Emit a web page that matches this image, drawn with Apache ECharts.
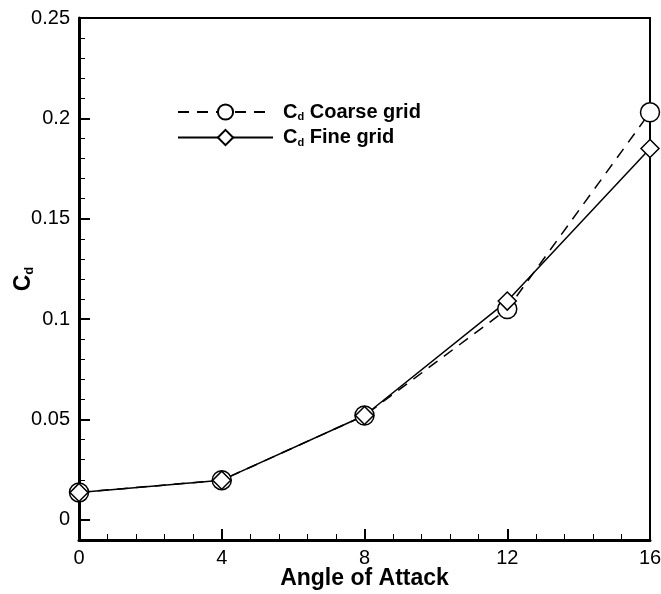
<!DOCTYPE html>
<html><head><meta charset="utf-8">
<script src="https://cdn.jsdelivr.net/npm/echarts@6/dist/echarts.min.js"></script>
<style>html,body{margin:0;padding:0;background:#fff}#c{width:661px;height:594px}</style>
</head><body><div id="c"></div>
<script>
var angles = [0, 4, 8, 12, 16];
var coarse = [0.0137, 0.0198, 0.052, 0.105, 0.203];
var fine = [0.0137, 0.0198, 0.052, 0.109, 0.185];
var yMajor = [0, 0.05, 0.1, 0.15, 0.2, 0.25];
var yMinor = [-0.01, 0.01, 0.02, 0.03, 0.04, 0.06, 0.07, 0.08, 0.09, 0.11, 0.12, 0.13, 0.14, 0.16, 0.17, 0.18, 0.19, 0.21, 0.22, 0.23, 0.24];
function pairs(xs, ys){ return xs.map(function(x,i){return [x, ys[i]];}); }
var FONT = 'Liberation Sans';
var chart = echarts.init(document.getElementById('c'));
var rich = {
  c: {fontFamily: FONT, fontWeight: 'bold', fontSize: 20, color: '#000'},
  s: {fontFamily: FONT, fontWeight: 'bold', fontSize: 11, color: '#000', padding: [10, 0, 0, 0]},
  t: {fontFamily: FONT, fontWeight: 'bold', fontSize: 20, color: '#000'}
};
chart.setOption({
  animation: false,
  backgroundColor: '#fff',
  grid: {left: 79, right: 11, top: 18, bottom: 54, containLabel: false, outerBoundsMode: 'none', show: true, borderColor: '#000', borderWidth: 2, backgroundColor: 'transparent'},
  legend: {
    left: 172, top: 97, orient: 'vertical', itemWidth: 95, itemHeight: 19, itemGap: 5,
    data: ['coarse', 'fine'],
    formatter: function(n){ return n === 'coarse' ? '{c|C}{s|d}{t| Coarse grid}' : '{c|C}{s|d}{t| Fine grid}'; },
    textStyle: {rich: rich, padding: [0,0,0,5]}
  },
  xAxis: {
    type: 'value', min: 0, max: 16, interval: 4,
    name: 'Angle of Attack', nameLocation: 'middle', nameGap: 27, nameMoveOverlap: false,
    nameTextStyle: {fontFamily: FONT, fontWeight: 'bold', fontSize: 23, color: '#000'},
    axisLine: {onZero: false, lineStyle: {color: '#000', width: 3}},
    axisTick: {inside: true, length: 11, lineStyle: {color: '#000', width: 2}},
    minorTick: {show: true, splitNumber: 5, length: 6, lineStyle: {color: '#000', width: 1}},
    splitLine: {show: false}, minorSplitLine: {show: false},
    axisLabel: {fontFamily: FONT, fontSize: 20, color: '#000', margin: 8}
  },
  yAxis: [{
    type: 'value', min: -0.01, max: 0.25,
    name: '{c|C}{s|d}', nameLocation: 'middle', nameGap: 43, nameRotate: 90, nameMoveOverlap: false,
    nameTextStyle: {rich: {c: {fontFamily: FONT, fontWeight: 'bold', fontSize: 23, color: '#000'}, s: {fontFamily: FONT, fontWeight: 'bold', fontSize: 13, color: '#000', padding: [11,0,0,0]}}},
    axisLine: {onZero: false, lineStyle: {color: '#000', width: 3}},
    axisTick: {inside: true, length: 11, customValues: yMajor, lineStyle: {color: '#000', width: 2}},
    axisLabel: {customValues: yMajor, fontFamily: FONT, fontSize: 20, color: '#000', margin: 9},
    splitLine: {show: false}
  }, {
    type: 'value', min: -0.01, max: 0.25, position: 'left',
    axisLine: {show: false, onZero: false},
    axisTick: {show: true, inside: true, length: 6, customValues: yMinor, lineStyle: {color: '#000', width: 1}},
    axisLabel: {show: false},
    splitLine: {show: false}
  }],
  series: [{
    name: 'coarse', type: 'line', data: pairs(angles, coarse),
    symbol: 'circle', symbolSize: 19, showAllSymbol: true,
    lineStyle: {color: '#000', width: 1.5, type: [11, 8]},
    itemStyle: {color: '#fff', borderColor: '#000', borderWidth: 1.5}
  }, {
    name: 'fine', type: 'line', data: pairs(angles, fine),
    symbol: 'diamond', symbolSize: [18, 18],
    lineStyle: {color: '#000', width: 1.5},
    itemStyle: {color: '#fff', borderColor: '#000', borderWidth: 1.5}
  }]
});
</script></body></html>
